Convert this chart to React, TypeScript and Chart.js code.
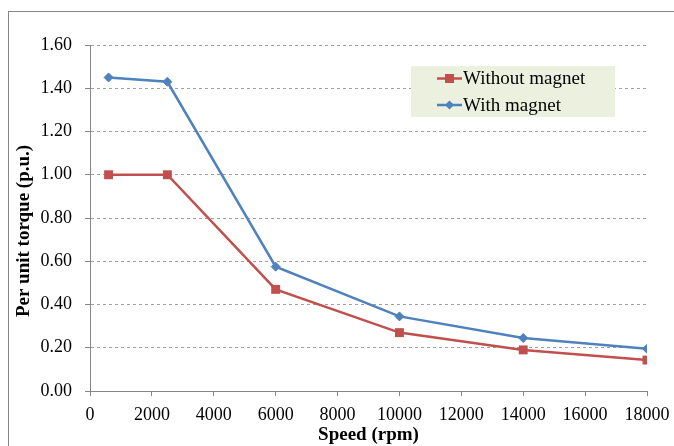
import React, { useEffect, useRef } from "react";
import { Chart, registerables } from "chart.js";

Chart.register(...registerables);

const speeds = [600, 2500, 6000, 10000, 14000, 18000];
const withoutMagnet = [1.0, 1.0, 0.47, 0.27, 0.19, 0.143];
const withMagnet = [1.45, 1.43, 0.575, 0.345, 0.245, 0.195];
const seriesLabels = ["Without magnet", "With magnet"];
const xTitle = "Speed (rpm)";
const yTitle = "Per unit torque (p.u.)";

const RED = "#C0504D";
const BLUE = "#4F81BD";
const GRID = "#A0A0A0";
const AXIS = "#868686";
const FONT = "'Liberation Serif', 'Times New Roman', serif";

const decorPlugin = {
  id: "decor",
  beforeDraw(chart: any) {
    const ctx = chart.ctx;
    ctx.save();
    ctx.fillStyle = "#ffffff";
    ctx.fillRect(0, 0, chart.width, chart.height);
    ctx.strokeStyle = AXIS;
    ctx.lineWidth = 1;
    ctx.strokeRect(8.5, 11.5, chart.width + 20, chart.height + 20);
    ctx.restore();
  },
  afterDraw(chart: any) {
    const ctx = chart.ctx;
    ctx.save();
    // y axis title
    ctx.translate(29, 231);
    ctx.rotate(-Math.PI / 2);
    ctx.font = `bold 19px ${FONT}`;
    ctx.fillStyle = "#000";
    ctx.textAlign = "center";
    ctx.textBaseline = "alphabetic";
    ctx.fillText(yTitle, 0, 0);
    ctx.restore();

    // legend
    ctx.save();
    ctx.fillStyle = "#EBF1DE";
    ctx.fillRect(411, 66, 204, 51);
    const rows = [78.5, 105];
    chart.data.datasets.forEach((ds: any, i: number) => {
      const y = rows[i];
      ctx.strokeStyle = ds.borderColor;
      ctx.lineWidth = 2.5;
      ctx.beginPath();
      ctx.moveTo(437, y);
      ctx.lineTo(462, y);
      ctx.stroke();
      ctx.fillStyle = ds.borderColor;
      ctx.beginPath();
      if (ds.pointStyle === "rect") {
        ctx.rect(449.5 - 4.5, y - 4.5, 9, 9);
      } else {
        ctx.moveTo(449.5, y - 4.5);
        ctx.lineTo(454, y);
        ctx.lineTo(449.5, y + 4.5);
        ctx.lineTo(445, y);
        ctx.closePath();
      }
      ctx.fill();
      ctx.fillStyle = "#000";
      ctx.font = `19px ${FONT}`;
      ctx.textAlign = "left";
      ctx.textBaseline = "middle";
      ctx.fillText(ds.label, 463, y + 1);
    });
    ctx.restore();
  },
};

export default function App() {
  const ref = useRef<HTMLCanvasElement>(null);

  useEffect(() => {
    if (!ref.current) return;
    const chart = new Chart(ref.current, {
      type: "line",
      data: {
        datasets: [
          {
            label: seriesLabels[0],
            data: speeds.map((s, i) => ({ x: s, y: withoutMagnet[i] })),
            borderColor: RED,
            backgroundColor: RED,
            borderWidth: 2.5,
            pointStyle: "rect",
            pointRadius: 6.3,
            pointBorderWidth: 0,
            tension: 0,
          },
          {
            label: seriesLabels[1],
            data: speeds.map((s, i) => ({ x: s, y: withMagnet[i] })),
            borderColor: BLUE,
            backgroundColor: BLUE,
            borderWidth: 2.5,
            pointStyle: "rectRot",
            pointRadius: 4.5,
            pointBorderWidth: 1,
            tension: 0,
          },
        ],
      },
      options: {
        responsive: false,
        animation: false,
        layout: { padding: { left: 8, top: 45, right: 27, bottom: 0 } },
        plugins: {
          legend: { display: false },
          tooltip: { enabled: false },
        },
        scales: {
          x: {
            type: "linear",
            min: 0,
            max: 18000,
            afterFit: (s: any) => {
              s.height = 55;
              s.paddingRight = 0;
              s.paddingLeft = 0;
            },
            ticks: {
              stepSize: 2000,
              padding: 8,
              color: "#000",
              font: { family: FONT, size: 18 },
              maxRotation: 0,
              callback: (v: any) => String(v),
            },
            grid: {
              drawOnChartArea: false,
              drawTicks: true,
              tickLength: 5,
              tickColor: AXIS,
            },
            border: { color: AXIS, width: 1 },
            title: {
              display: true,
              text: xTitle,
              color: "#000",
              font: { family: FONT, size: 19, weight: "bold" },
              padding: { top: 0, bottom: 0 },
            },
          },
          y: {
            type: "linear",
            min: 0,
            max: 1.6,
            afterFit: (s: any) => {
              s.width = 82;
            },
            ticks: {
              stepSize: 0.2,
              padding: 13,
              color: "#000",
              font: { family: FONT, size: 18 },
              callback: (v: any) => Number(v).toFixed(2),
            },
            grid: {
              color: GRID,
              lineWidth: 1,
              tickLength: 5,
              tickColor: AXIS,
              tickBorderDash: [],
              drawTicks: true,
            } as any,
            border: { color: AXIS, width: 1, dash: [3, 3] } as any,
          },
        },
      },
      plugins: [decorPlugin],
    });
    return () => chart.destroy();
  }, []);

  return (
    <div style={{ position: "fixed", left: 0, top: 0, width: 674, height: 446 }}>
      <canvas ref={ref} width={674} height={446} />
    </div>
  );
}
